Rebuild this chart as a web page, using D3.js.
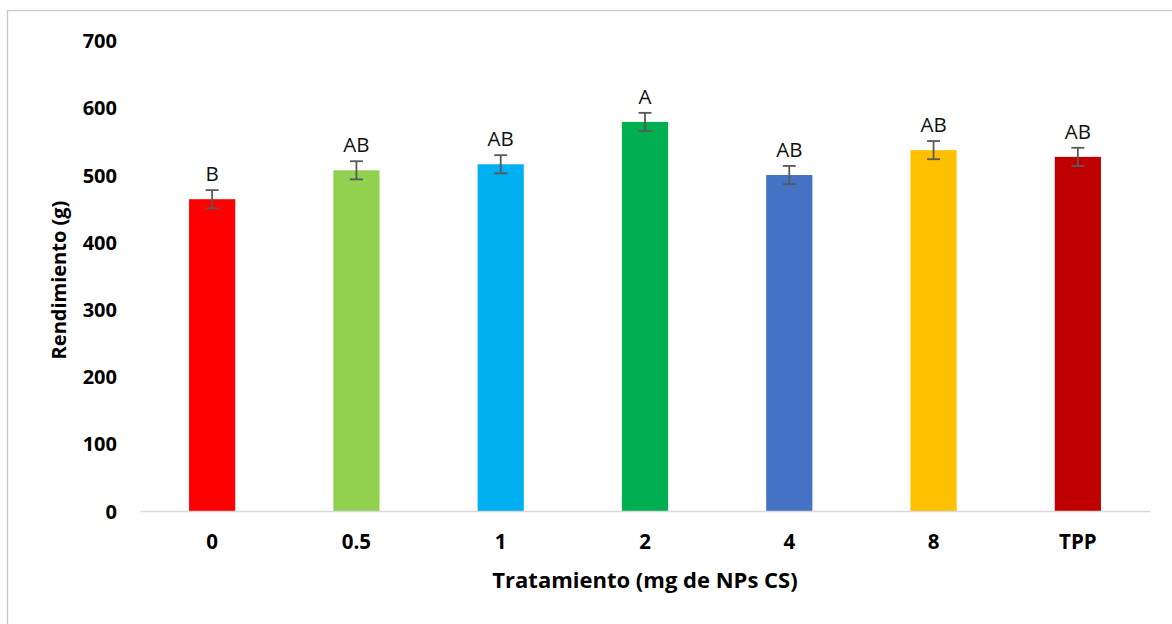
<!DOCTYPE html>
<html>
<head>
<meta charset="utf-8">
<script src="https://cdn.jsdelivr.net/npm/d3@7/dist/d3.min.js"></script>
<style>
  html, body { margin: 0; padding: 0; background: #fff; }
  svg { display: block; }
  text { font-family: "Open Sans", "DejaVu Sans", sans-serif; }
</style>
</head>
<body>
<svg id="chart" width="1172" height="624"></svg>
<script>
const categories = ["0", "0.5", "1", "2", "4", "8", "TPP"];
const values = [464, 507, 516, 579, 500, 537, 527];
const errors = [13.5, 13.5, 13.5, 13.5, 13.5, 13.5, 13.5];
const letters = ["B", "AB", "AB", "A", "AB", "AB", "AB"];
const barColors = ["#FF0000", "#92D050", "#00B0F0", "#00B050", "#4472C4", "#FFC000", "#C00000"];
const yTicks = [0, 100, 200, 300, 400, 500, 600, 700];
const xTitle = "Tratamiento (mg de NPs CS)";
const yTitle = "Rendimiento (g)";

const svg = d3.select("#chart");

// outer chart border
svg.append("rect")
  .attr("x", 7.5).attr("y", 10.5)
  .attr("width", 1180).attr("height", 640)
  .attr("fill", "none").attr("stroke", "#c8c8c8").attr("stroke-width", 1.3);

const x = d3.scaleBand().domain(categories).range([140, 1150]).paddingInner(0.68).paddingOuter(0.34);
const y = d3.scaleLinear().domain([0, 700]).range([511, 40.6]);

// y tick labels
const yAxis = d3.axisLeft(y).tickValues(yTicks).tickSize(0).tickPadding(0);
const gy = svg.append("g").attr("transform", "translate(117,0)").call(yAxis);
gy.select(".domain").remove();
gy.selectAll("text")
  .attr("font-family", "'Open Sans', sans-serif")
  .attr("font-size", 20).attr("font-weight", "bold").attr("fill", "#000")
  .attr("dy", "0.35em");

// bars
svg.append("g").selectAll("rect")
  .data(categories)
  .join("rect")
  .attr("x", d => x(d))
  .attr("width", x.bandwidth())
  .attr("y", (d, i) => y(values[i]))
  .attr("height", (d, i) => y(0) - y(values[i]))
  .attr("fill", (d, i) => barColors[i]);

// x axis
const xAxis = d3.axisBottom(x).tickSize(0).tickPadding(0);
const gx = svg.append("g").attr("transform", `translate(0,${y(0)})`).call(xAxis);
gx.select(".domain").attr("stroke", "#d9d9d9").attr("stroke-width", 1.5);
gx.selectAll("text")
  .attr("font-family", "'Open Sans', sans-serif")
  .attr("font-size", 20.5).attr("font-weight", "bold").attr("fill", "#000")
  .attr("y", 31).attr("dy", "0.35em");

// error bars
const eg = svg.append("g").attr("stroke", "#595959").attr("stroke-width", 1.8).attr("fill", "none");
categories.forEach((c, i) => {
  const cx = x(c) + x.bandwidth() / 2;
  const top = y(values[i] + errors[i]);
  const bot = y(values[i] - errors[i]);
  eg.append("line").attr("x1", cx).attr("x2", cx).attr("y1", top).attr("y2", bot);
  eg.append("line").attr("x1", cx - 6.5).attr("x2", cx + 6.5).attr("y1", top).attr("y2", top);
  eg.append("line").attr("x1", cx - 6.5).attr("x2", cx + 6.5).attr("y1", bot).attr("y2", bot);
});

// significance letters
svg.append("g").selectAll("text")
  .data(categories)
  .join("text")
  .attr("x", d => x(d) + x.bandwidth() / 2)
  .attr("y", (d, i) => y(values[i] + errors[i]) - 9)
  .attr("text-anchor", "middle")
  .attr("font-size", 20.5)
  .attr("fill", "#111")
  .text((d, i) => letters[i]);

// axis titles
svg.append("text")
  .attr("x", 645).attr("y", 580).attr("dy", "0.35em")
  .attr("text-anchor", "middle")
  .attr("font-size", 22).attr("font-weight", "bold").attr("fill", "#000")
  .text(xTitle);

svg.append("text")
  .attr("transform", "translate(59,280) rotate(-90)")
  .attr("dy", "0.35em")
  .attr("text-anchor", "middle")
  .attr("font-size", 20).attr("font-weight", "bold").attr("fill", "#000")
  .text(yTitle);
</script>
</body>
</html>
